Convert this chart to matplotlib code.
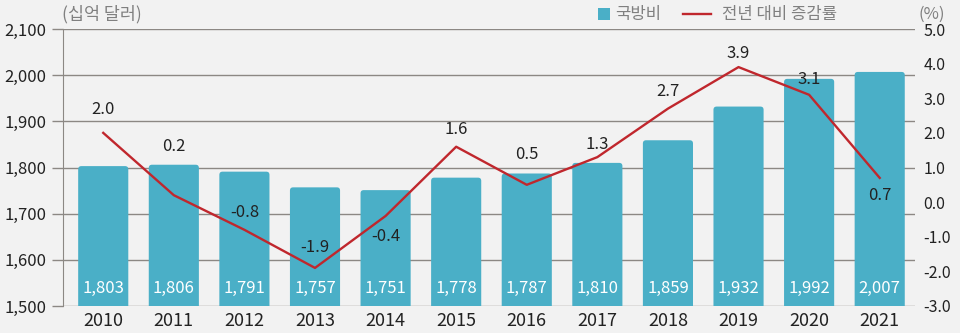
import matplotlib.pyplot as plt
from matplotlib.lines import Line2D
from matplotlib.patches import FancyBboxPatch, Rectangle

plt.rcParams['font.family'] = ['Noto Sans CJK KR', 'DejaVu Sans']

years = ['2010', '2011', '2012', '2013', '2014', '2015',
         '2016', '2017', '2018', '2019', '2020', '2021']
spending = [1803, 1806, 1791, 1757, 1751, 1778, 1787, 1810, 1859, 1932, 1992, 2007]
growth = [2.0, 0.2, -0.8, -1.9, -0.4, 1.6, 0.5, 1.3, 2.7, 3.9, 3.1, 0.7]

# label offsets for the growth values (pixels, above/below the point)
label_dy = [23, 49, 17, 20, -21, 17, 30, 13, 17, 14, 15, -18]

bar_color = '#4aafc7'
line_color = '#c0272d'
grid_color = '#8c8884'
bg = '#f2f2f2'
W, H = 960, 333

fig = plt.figure(figsize=(9.6, 3.33), dpi=100, facecolor=bg)
ax = fig.add_axes([63 / W, 1 - 306 / H, (915 - 63) / W, (306 - 29) / H])
ax.set_facecolor(bg)

x = list(range(len(years)))
bars = ax.bar(x, spending, width=0.71, color=bar_color, zorder=2)

# swap plain bars for ones with rounded tops
ax.set_xlim(-0.57, 11.5)
ax.set_ylim(1500, 2100)
aspect = (600 / 277) / (12.07 / 852)
for b in bars:
    bx, by = b.get_xy()
    fb = FancyBboxPatch((bx, by), b.get_width(), b.get_height(),
                        boxstyle='round,pad=0,rounding_size=0.045',
                        mutation_aspect=aspect, fc=bar_color, ec='none', zorder=2)
    b.remove()
    ax.add_patch(fb)

for xi, v in zip(x, spending):
    ax.text(xi, 1537, f'{v:,}', ha='center', va='center', color='white',
            fontsize=12, zorder=4)

ax.set_yticks(range(1500, 2101, 100))
ax.set_yticklabels([f'{v:,}' for v in range(1500, 2101, 100)])
ax.grid(axis='y', color=grid_color, linewidth=1, zorder=1)
ax.set_axisbelow(True)
for s in ['top', 'right', 'bottom']:
    ax.spines[s].set_visible(False)
ax.spines['left'].set_color(grid_color)
ax.spines['left'].set_zorder(5)
ax.tick_params(axis='y', length=8, color=grid_color, width=1, labelsize=12,
               labelcolor='#222222', pad=4)
ax.tick_params(axis='x', length=0, labelsize=13, labelcolor='#222222', pad=4)
ax.set_xticks(x)
ax.set_xticklabels(years)

ax2 = ax.twinx()
ax2.set_ylim(-3, 5)
ax2.set_yticks(range(-3, 6))
ax2.set_yticklabels([f'{v:.1f}' for v in range(-3, 6)])
for s in ax2.spines.values():
    s.set_visible(False)
ax2.tick_params(axis='y', length=0, labelsize=11.5, labelcolor='#222222', pad=6)
ax2.plot(x, growth, color=line_color, linewidth=1.7, zorder=3)

for xi, v, dy in zip(x, growth, label_dy):
    ax2.annotate(f'{v:.1f}', (xi, v), xytext=(0, dy), textcoords='offset pixels',
                 ha='center', va='center', fontsize=12, color='#222222')

# header texts and legend
fig.text(62 / W, 1 - 14 / H, '(십억 달러)', ha='left', va='center',
         fontsize=12.5, color='#808080')
fig.text(945 / W, 1 - 14 / H, '(%)', ha='right', va='center',
         fontsize=12, color='#808080')
fig.patches.append(Rectangle((598 / W, 1 - 20 / H), 12 / W, 12 / H,
                             transform=fig.transFigure, fc=bar_color, ec='none'))
fig.text(615 / W, 1 - 14 / H, '국방비', ha='left', va='center',
         fontsize=12, color='#808080')
fig.lines.append(Line2D([683 / W, 711 / W], [1 - 14 / H, 1 - 14 / H],
                        transform=fig.transFigure, color=line_color, linewidth=1.7))
fig.text(722 / W, 1 - 14 / H, '전년 대비 증감률', ha='left', va='center',
         fontsize=12, color='#808080')

fig.savefig('out.png', dpi=100, facecolor=bg)
